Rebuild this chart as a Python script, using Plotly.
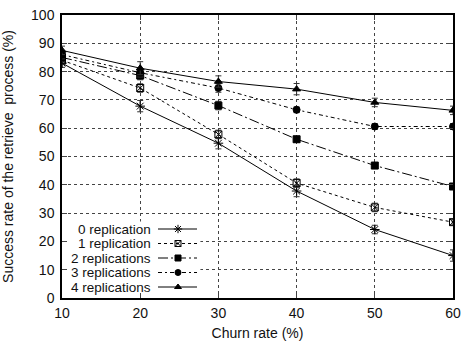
import plotly.graph_objects as go

churn = [10, 20, 30, 40, 50, 60]
series_names = ["0 replication", "1 replication", "2 replications", "3 replications", "4 replications"]
rep0 = [83.0, 67.8, 54.7, 37.8, 24.2, 15.0]
rep1 = [84.0, 74.2, 57.8, 40.6, 32.0, 26.8]
rep2 = [85.0, 78.6, 68.0, 56.1, 46.8, 39.4]
rep3 = [86.0, 79.6, 74.2, 66.5, 60.6, 60.6]
rep4 = [87.5, 81.2, 76.5, 73.8, 69.1, 66.3]
err0 = [1.5, 2.0, 2.0, 2.0, 1.5, 2.0]
err1 = [1.5, 1.5, 1.5, 1.5, 1.5, 1.0]
err2 = [1.5, 1.5, 1.5, 1.0, 1.0, 1.0]
err3 = [1.5, 1.5, 1.5, 1.0, 1.0, 1.0]
err4 = [1.5, 2.3, 2.0, 2.0, 1.5, 1.5]
yticks = [0, 10, 20, 30, 40, 50, 60, 70, 80, 90, 100]

values = [rep0, rep1, rep2, rep3, rep4]
errors = [err0, err1, err2, err3, err4]
dashes = ["solid", "dot", "10px,3px,2px,3px", "4px,3px,2px,3px", "solid"]
symbols = ["asterisk-open", "square-x-open", "square", "circle", "triangle-up"]
msizes = [8, 7, 7, 7, 7]

fig = go.Figure()
for name, v, e, d, s, ms in zip(series_names, values, errors, dashes, symbols, msizes):
    fig.add_trace(go.Scatter(
        x=churn, y=v, name=name, mode="lines+markers",
        line=dict(color="black", width=1, dash=d),
        marker=dict(symbol=s, size=ms, color="black", line=dict(color="black", width=1)),
        error_y=dict(type="data", array=e, visible=True, color="#333", thickness=1, width=3),
        showlegend=False,
    ))

# custom compact legend (gnuplot style: text right, sample on the right)
W, H, L, T = 391.0, 283.0, 62.0, 15.0
def px(xp):
    return (xp - L) / W
def py(yp):
    return (T + H - yp) / H

leg_rows = [229, 243.5, 258, 272.5, 287]
for name, d, s, ms, yr in zip(series_names, dashes, symbols, msizes, leg_rows):
    fig.add_annotation(x=px(153), y=py(yr), xref="paper", yref="paper", text=name,
                       showarrow=False, xanchor="right", yanchor="middle",
                       font=dict(family="Liberation Sans", size=13.5, color="#111"))
    fig.add_trace(go.Scatter(
        x=[px(158), px(178), px(197)], y=[py(yr)] * 3, xaxis="x2", yaxis="y2",
        mode="lines", line=dict(color="black", width=1, dash=d),
        showlegend=False, hoverinfo="skip"))
    fig.add_trace(go.Scatter(
        x=[px(178)], y=[py(yr)], xaxis="x2", yaxis="y2", mode="markers",
        marker=dict(symbol=s, size=ms - 1, color="black", line=dict(color="black", width=1)),
        showlegend=False, hoverinfo="skip"))

# white legend box hiding the grid
fig.add_shape(type="rect", xref="x", yref="y", x0=10, x1=27.7, y0=0, y1=27.0,
              fillcolor="white", line=dict(width=0), layer="between")

fig.update_layout(
    width=461, height=341,
    margin=dict(l=62, r=8, t=15, b=43),
    paper_bgcolor="white", plot_bgcolor="white",
    font=dict(family="Liberation Sans", size=13, color="#111"),
    xaxis=dict(range=[10, 60], tickvals=churn, ticks="inside", ticklen=5, mirror="ticks",
               showline=True, linecolor="black", linewidth=1.5, automargin=False,
               showgrid=True, gridcolor="#444", griddash="dot", gridwidth=1,
               zeroline=False, ticklabelstandoff=1, tickfont=dict(size=14),
               title=dict(text="Churn rate (%)", standoff=9, font=dict(size=14))),
    yaxis=dict(range=[0, 100], tickvals=yticks, ticks="inside", ticklen=5, mirror="ticks",
               showline=True, linecolor="black", linewidth=1.5, automargin=False,
               showgrid=True, gridcolor="#444", griddash="dot", gridwidth=1,
               zeroline=False, ticklabelstandoff=3, tickfont=dict(size=14),
               title=dict(text="Success rate of the retrieve\u00a0 process (%)", standoff=16,
                          font=dict(size=14))),
    xaxis2=dict(overlaying="x", range=[0, 1], visible=False),
    yaxis2=dict(overlaying="y", range=[0, 1], visible=False),
)

fig.write_html("out.html", config={"displayModeBar": False},
               post_script="document.body.style.margin='0px';")
